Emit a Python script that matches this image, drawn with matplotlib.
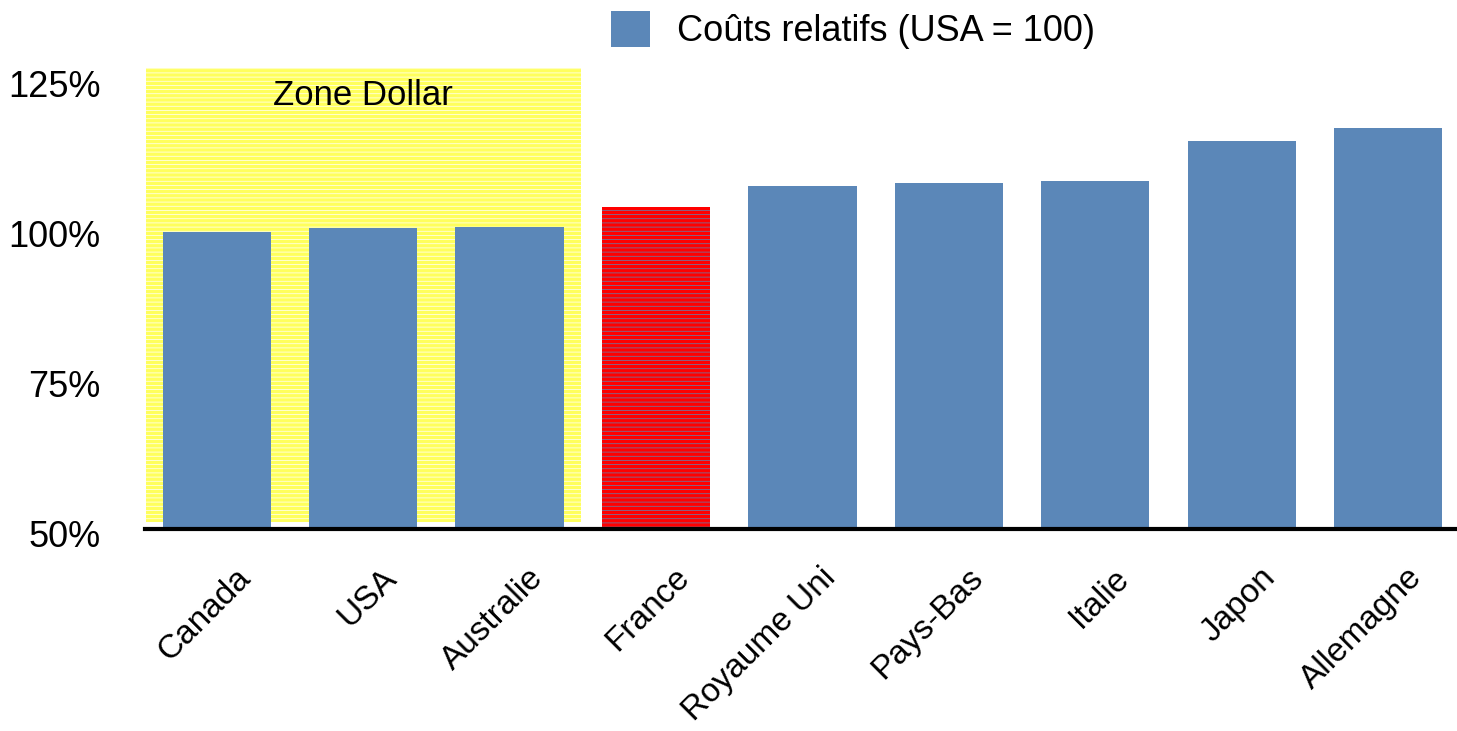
import matplotlib
matplotlib.use("Agg")
import matplotlib.pyplot as plt
from matplotlib.patches import Rectangle
from matplotlib.transforms import ScaledTranslation

# Data
pays = ['Canada', 'USA', 'Australie', 'France', 'Royaume Uni',
        'Pays-Bas', 'Italie', 'Japon', 'Allemagne']
couts = [99.5, 100.2, 100.3, 103.7, 107.2, 107.7, 108.0, 114.7, 116.8]
yticks = [50, 75, 100, 125]
ytick_labels = ['50%', '75%', '100%', '125%']

# Zone Dollar band (first three countries)
zone_x = (-0.48, 2.49)
zone_y = (51.2, 126.8)

blue = '#5b87b8'
red = '#ff0000'
yellow = '#ffff5c'

plt.rcParams['font.family'] = ['Liberation Sans', 'DejaVu Sans']
plt.rcParams['hatch.linewidth'] = 0.5
plt.rcParams['hatch.color'] = 'white'

fig = plt.figure(figsize=(14.57, 7.31), dpi=100)
ax = fig.add_axes([0.0995, 0.2763, 0.9005, 0.632])

# yellow striped zone
zone = Rectangle((zone_x[0], zone_y[0]), zone_x[1] - zone_x[0], zone_y[1] - zone_y[0],
                 facecolor=yellow, edgecolor='white', hatch='----', linewidth=0, zorder=0)
ax.add_patch(zone)
ax.text(1.0, 122.3, 'Zone Dollar', fontsize=25, ha='center', va='center', zorder=3)

x = list(range(len(pays)))
bars = ax.bar(x, [c - 50 for c in couts], bottom=50, width=0.74, color=blue,
              label='Coûts relatifs (USA = 100)', zorder=2)

# France highlighted in red with thin blue stripes
fr = bars[pays.index('France')]
fr.set_facecolor(red)
fr.set_hatch('----')
fr.set_edgecolor(blue)
fr.set_linewidth(0)

ax.set_xlim(-0.49, 8.47)
ax.set_ylim(50, 127)
ax.set_yticks(yticks)
ax.set_yticklabels(ytick_labels, fontsize=26)
ax.set_xticks(x)
ax.set_xticklabels(pays, fontsize=24, rotation=45, ha='right', rotation_mode='anchor')
ax.tick_params(axis='both', length=0)
ax.tick_params(axis='y', pad=32)
ax.tick_params(axis='x', pad=0)
for lab in ax.get_yticklabels():
    lab.set_transform(lab.get_transform() + ScaledTranslation(0, -0.04, fig.dpi_scale_trans))
for lab in ax.get_xticklabels():
    lab.set_transform(lab.get_transform() + ScaledTranslation(0.18, -0.33, fig.dpi_scale_trans))

for s in ['top', 'right', 'left']:
    ax.spines[s].set_visible(False)
ax.spines['bottom'].set_linewidth(3)
ax.spines['bottom'].set_zorder(4)

leg = ax.legend(loc='upper left', bbox_to_anchor=(0.4145, 0.995), bbox_transform=fig.transFigure,
                frameon=False, fontsize=26, handlelength=1.08, handleheight=1.15,
                handletextpad=0.75, borderaxespad=0, borderpad=0.2)

fig.savefig('out.png', dpi=100)
